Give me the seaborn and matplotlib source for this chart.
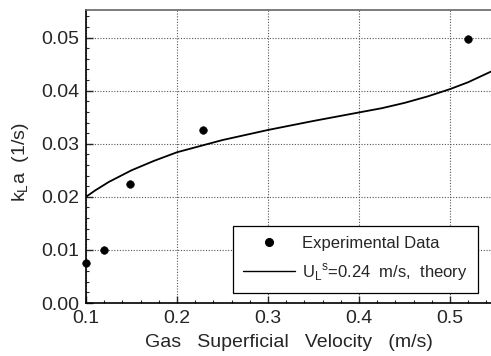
import matplotlib
matplotlib.use("Agg")
import matplotlib.pyplot as plt
import seaborn as sns
import pandas as pd
from matplotlib.ticker import MultipleLocator
from matplotlib.lines import Line2D

exp_x = [0.100, 0.120, 0.148, 0.229, 0.520]
exp_y = [0.0075, 0.0100, 0.0225, 0.0325, 0.0498]

theory_x = [0.100, 0.110, 0.125, 0.150, 0.175, 0.200, 0.250, 0.300, 0.350, 0.400, 0.425, 0.450, 0.475, 0.500, 0.520, 0.545]
theory_y = [0.0200, 0.0212, 0.0228, 0.0250, 0.0268, 0.0284, 0.0307, 0.0326, 0.0343, 0.0359, 0.0367, 0.0377, 0.0389, 0.0403, 0.0416, 0.0436]

xticks = [0.1, 0.2, 0.3, 0.4, 0.5]
yticks = [0.00, 0.01, 0.02, 0.03, 0.04, 0.05]

sns.set_style("ticks")
plt.rcParams['font.family'] = ['Liberation Sans', 'DejaVu Sans']
plt.rcParams['mathtext.fontset'] = 'custom'
plt.rcParams['mathtext.rm'] = 'Liberation Sans'

fig = plt.figure(figsize=(4.91, 3.56), dpi=100)
ax = fig.add_axes([86/491, 1 - 303/356, (491 - 86)/491, (303 - 10)/356])

df_exp = pd.DataFrame({"x": exp_x, "y": exp_y})
df_th = pd.DataFrame({"x": theory_x, "y": theory_y})

sns.lineplot(data=df_th, x="x", y="y", ax=ax, color="black", linewidth=1.3, zorder=3)
sns.scatterplot(data=df_exp, x="x", y="y", ax=ax, color="black", s=30, edgecolor="black", zorder=4, clip_on=False)

ax.set_xlim(0.1, 0.545)
ax.set_ylim(0.0, 0.0552)
ax.set_xticks(xticks)
ax.set_yticks(yticks)
ax.set_xticklabels(["0.1", "0.2", "0.3", "0.4", "0.5"])
ax.set_yticklabels(["0.00", "0.01", "0.02", "0.03", "0.04", "0.05"])
ax.xaxis.set_minor_locator(MultipleLocator(0.02))
ax.yaxis.set_minor_locator(MultipleLocator(0.002))
ax.tick_params(which="both", direction="in", top=False, right=False)
ax.tick_params(which="major", length=5, width=1, labelsize=14, pad=5)
ax.tick_params(which="minor", length=2.5, width=0.8)

ax.grid(True, which="major", linestyle=(0, (1, 1.5)), color="#555555", linewidth=0.8)
ax.set_axisbelow(True)

for s in ["left", "bottom"]:
    ax.spines[s].set_color("black")
    ax.spines[s].set_linewidth(1.2)
ax.spines["top"].set_color("#666666")
ax.spines["top"].set_linewidth(1.2)
ax.spines["right"].set_visible(False)

ax.set_xlabel("Gas   Superficial   Velocity   (m/s)", fontsize=14, labelpad=5)
ax.set_ylabel(r"k$_\mathregular{L}$a  (1/s)", fontsize=14)
ax.yaxis.set_label_coords(-0.135, (303 - 162) / 293)

handles = [
    Line2D([], [], marker="o", color="black", linestyle="none", markersize=5.5),
    Line2D([], [], color="black", linewidth=1.0),
]
labels = ["Experimental Data", r"U$_\mathregular{L}$$^\mathregular{s}$=0.24  m/s,  theory"]
leg = ax.legend(handles, labels, loc="lower right", bbox_to_anchor=((478 - 86)/405, (303 - 293)/293),
                borderaxespad=0, fontsize=12, frameon=True, fancybox=False, edgecolor="black",
                framealpha=1, borderpad=0.6, handlelength=3.1, labelspacing=0.6, handletextpad=0.45)
leg.get_frame().set_linewidth(0.9)

fig.savefig("out.png", dpi=100)
